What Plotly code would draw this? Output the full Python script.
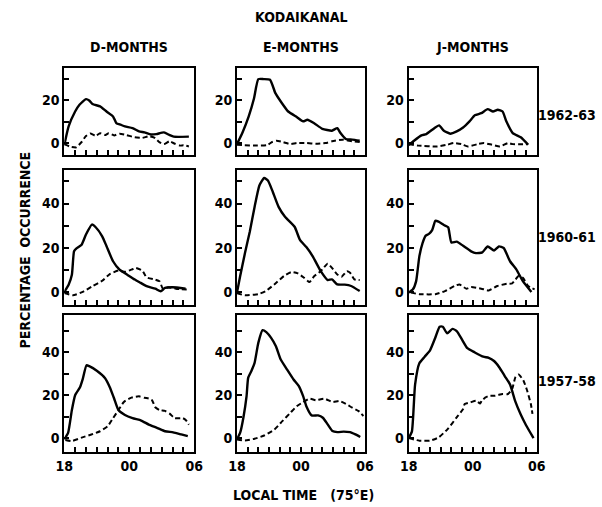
import plotly.graph_objects as go

# ---------------- data (hours after 18 LT, percentage occurrence) ----------------
# Row 1962-63
d6263_solid_x = [0, 0.4, 1.0, 1.4, 2.0, 2.3, 2.6, 3.3, 3.9, 4.5, 4.8, 5.2, 5.6, 6.3, 6.9, 7.4, 8.0, 8.5, 9.2, 9.7, 10.1, 11.5]
d6263_solid_y = [-1, 7.8, 14.8, 18.0, 20.6, 20.0, 18.3, 17.2, 14.8, 12.5, 9.4, 8.6, 7.8, 7.0, 5.5, 5.0, 4.0, 4.2, 5.0, 3.8, 3.0, 3.0]
d6263_dash_x = [0, 0.5, 1.1, 1.6, 2.0, 2.4, 2.9, 3.3, 3.8, 4.1, 4.6, 5.1, 5.7, 6.5, 7.2, 7.8, 8.3, 8.8, 9.2, 9.7, 10.2, 10.7, 11.0, 11.5]
d6263_dash_y = [-0.5, -1.6, -2.0, 0.5, 3.3, 4.5, 3.4, 4.6, 3.8, 4.6, 3.6, 4.4, 3.8, 2.7, 2.4, 3.2, 2.6, 0.3, -0.5, 0.8, -0.3, -1.2, -1.0, -1.6]

e6263_solid_x = [0, 0.5, 1.1, 1.6, 2.0, 2.5, 3.1, 3.6, 4.2, 4.8, 5.6, 6.2, 6.6, 7.2, 8.0, 8.9, 9.4, 9.7, 10.2, 10.8, 11.5]
e6263_solid_y = [-0.5, 4.7, 12.5, 21.0, 30.0, 30.0, 29.7, 23.4, 18.8, 14.8, 12.2, 10.2, 10.9, 9.4, 6.7, 5.8, 7.0, 4.7, 1.9, 1.6, 1.1]
e6263_dash_x = [0, 0.7, 1.9, 2.8, 3.3, 3.7, 4.3, 5.0, 5.6, 6.5, 7.4, 8.3, 8.9, 9.9, 10.8, 11.5]
e6263_dash_y = [-0.8, -1.0, -1.2, -1.0, 0.5, 1.1, 0.5, -0.5, 0.0, 0.0, -0.3, 0.0, 0.8, 1.6, 0.8, 0.5]

j6263_solid_x = [0, 0.5, 1.2, 1.65, 2.4, 2.85, 3.3, 3.9, 4.5, 5.1, 5.7, 6.2, 6.8, 7.4, 7.9, 8.35, 8.8, 9.15, 9.75, 10.5, 11.2]
j6263_solid_y = [-1, 1.1, 3.6, 4.2, 7.0, 8.3, 5.8, 4.4, 5.5, 7.3, 10.2, 13.0, 14.0, 15.9, 14.8, 15.6, 14.8, 10.2, 4.7, 2.7, -0.8]
j6263_dash_x = [0, 0.9, 2.7, 3.6, 4.2, 4.95, 5.55, 6.45, 7.05, 7.8, 8.55, 9.3, 9.75, 10.5, 11.1]
j6263_dash_y = [-0.5, -1.2, -1.6, -0.8, 0.0, -0.5, -1.6, -0.5, 0.0, -0.8, -1.6, 0.0, -0.5, -0.5, -0.5]

# Row 1960-61
d6061_solid_x = [0, 0.4, 0.7, 0.9, 1.1, 1.6, 2.0, 2.55, 2.9, 3.5, 3.9, 4.5, 5.1, 5.9, 6.5, 7.05, 7.6, 8.4, 8.9, 9.3, 10.0, 11.2]
d6061_solid_y = [0, 3.3, 7.8, 18.4, 19.6, 21.4, 26.0, 30.5, 29.3, 25.2, 20.7, 13.9, 10.1, 7.5, 5.6, 4.1, 2.6, 1.5, 0.3, 1.8, 2.1, 1.5]
d6061_dash_x = [0, 0.8, 1.7, 2.6, 3.5, 4.2, 5.0, 5.6, 6.2, 6.6, 7.2, 7.6, 8.4, 8.8, 9.1, 9.6, 10.3, 11.3]
d6061_dash_y = [-0.5, -1.5, 0.0, 2.6, 5.1, 8.1, 9.7, 9.1, 10.1, 10.9, 9.7, 6.6, 5.6, 4.8, 1.5, 2.1, 1.5, 1.1]

e6061_solid_x = [0, 0.3, 0.75, 1.2, 1.65, 2.1, 2.55, 2.9, 3.3, 3.9, 4.5, 5.4, 5.9, 6.5, 7.1, 7.85, 8.5, 8.9, 9.4, 10.1, 10.7, 11.5]
e6061_solid_y = [-0.3, 7.2, 17.6, 27.3, 38.5, 48.2, 51.6, 50.4, 46.0, 38.5, 34.0, 29.5, 23.6, 20.3, 16.1, 9.4, 5.4, 5.7, 3.4, 3.3, 2.7, 0.4]
e6061_dash_x = [0, 0.75, 2.0, 2.7, 3.5, 4.4, 5.1, 5.7, 6.3, 6.8, 7.25, 7.85, 8.5, 8.9, 9.4, 9.8, 10.3, 10.6, 11.0, 11.5]
e6061_dash_y = [-0.6, -1.5, -1.0, 0.4, 3.4, 7.2, 9.0, 8.4, 6.4, 4.5, 7.2, 9.4, 12.8, 10.9, 7.9, 6.9, 9.4, 8.7, 5.7, 5.4]

j6061_solid_x = [0, 0.4, 0.7, 1.0, 1.3, 1.6, 1.9, 2.2, 2.5, 2.8, 3.3, 3.7, 4.0, 4.5, 5.1, 5.85, 6.3, 6.9, 7.4, 8.0, 8.45, 8.9, 9.5, 10.1, 10.7, 11.5]
j6061_solid_y = [-0.3, 1.2, 4.9, 16.1, 22.1, 25.5, 26.3, 28.0, 32.2, 31.8, 30.3, 29.3, 22.4, 22.8, 20.9, 18.4, 17.6, 17.9, 20.6, 18.8, 20.6, 19.9, 13.9, 10.1, 4.9, 0.0]
j6061_dash_x = [0.2, 1.0, 2.5, 3.4, 4.3, 4.75, 5.4, 5.85, 6.8, 7.5, 8.3, 9.2, 9.7, 10.3, 10.7, 11.2, 11.8]
j6061_dash_y = [-0.3, -1.0, -1.0, 0.4, 2.7, 3.4, 1.5, 2.2, 1.5, 0.7, 2.7, 3.7, 3.9, 7.2, 6.4, 2.7, 1.2]

# Row 1957-58
d5758_solid_x = [0, 0.35, 0.7, 1.0, 1.45, 1.7, 2.05, 2.3, 3.0, 3.75, 4.2, 4.6, 5.0, 5.6, 6.3, 7.1, 7.8, 8.6, 9.3, 10.05, 10.8, 11.4]
d5758_solid_y = [-0.6, 2.4, 13.1, 20.0, 23.7, 27.5, 34.0, 33.6, 31.5, 28.1, 23.8, 18.5, 13.1, 10.8, 9.3, 8.2, 6.3, 4.7, 3.2, 2.7, 1.7, 0.9]
d5758_dash_x = [0.1, 0.7, 1.6, 2.5, 3.3, 4.0, 4.5, 5.0, 5.5, 6.2, 6.9, 7.4, 7.8, 8.1, 8.4, 8.8, 9.3, 9.75, 10.2, 10.95, 11.25, 11.5]
d5758_dash_y = [-0.9, -1.4, 0.2, 1.7, 3.2, 5.5, 9.3, 13.1, 16.9, 18.9, 19.5, 18.8, 18.5, 17.7, 14.4, 13.1, 12.7, 11.3, 9.3, 9.3, 8.2, 6.3]

e5758_solid_x = [0, 0.3, 0.6, 0.9, 1.05, 1.35, 1.65, 2.0, 2.4, 2.75, 3.2, 3.65, 4.1, 4.7, 5.3, 5.8, 6.2, 6.5, 7.0, 7.6, 8.05, 8.5, 8.95, 9.4, 10.0, 10.6, 11.1, 11.55]
e5758_solid_y = [-0.6, 2.5, 9.5, 19.6, 28.1, 31.3, 35.1, 44.5, 50.4, 49.5, 46.8, 42.9, 36.7, 32.0, 27.4, 24.3, 19.6, 14.9, 10.6, 10.6, 9.5, 6.4, 3.3, 2.8, 3.0, 2.8, 1.7, 0.5]
e5758_dash_x = [0, 0.75, 1.65, 2.55, 3.5, 4.25, 5.0, 5.6, 6.2, 6.8, 7.4, 8.2, 8.95, 9.6, 10.2, 10.8, 11.4, 11.85]
e5758_dash_y = [-0.6, -1.1, -0.3, 1.2, 4.0, 7.9, 11.8, 14.9, 16.8, 18.4, 17.7, 18.4, 16.8, 17.3, 16.0, 14.2, 12.6, 10.3]

j5758_solid_x = [0, 0.3, 0.6, 1.0, 1.5, 2.0, 2.5, 2.9, 3.2, 3.6, 4.1, 4.5, 5.0, 5.5, 6.2, 7.0, 7.5, 8.0, 8.5, 9.0, 9.5, 10.0, 10.5, 11.0, 11.7]
j5758_solid_y = [0, 3, 25, 35, 38, 41, 47, 52, 52, 49, 51, 50, 46, 42, 40, 38, 37.5, 36, 33, 29, 25, 17, 11, 6, 0]
j5758_dash_x = [0, 1.0, 2.0, 2.8, 3.65, 4.5, 5.1, 5.25, 5.8, 6.3, 6.7, 6.85, 7.2, 7.55, 8.1, 8.8, 9.3, 9.7, 10.0, 10.3, 10.75, 11.1, 11.45, 11.6]
j5758_dash_y = [0, -1.2, -1.2, 0.3, 4.2, 9.7, 13.6, 15.9, 16.7, 17.5, 16.2, 17.5, 19.0, 19.8, 19.8, 20.6, 20.6, 23.0, 28.4, 29.7, 26.9, 22.2, 15.9, 11.3]

seasons = ["D-MONTHS", "E-MONTHS", "J-MONTHS"]
epochs = ["1962-63", "1960-61", "1957-58"]
x_tick_vals = list(range(0, 13))
x_tick_text = ["18", "", "", "", "", "", "00", "", "", "", "", "", "06"]

panels = [
    [(d6263_solid_x, d6263_solid_y, d6263_dash_x, d6263_dash_y),
     (e6263_solid_x, e6263_solid_y, e6263_dash_x, e6263_dash_y),
     (j6263_solid_x, j6263_solid_y, j6263_dash_x, j6263_dash_y)],
    [(d6061_solid_x, d6061_solid_y, d6061_dash_x, d6061_dash_y),
     (e6061_solid_x, e6061_solid_y, e6061_dash_x, e6061_dash_y),
     (j6061_solid_x, j6061_solid_y, j6061_dash_x, j6061_dash_y)],
    [(d5758_solid_x, d5758_solid_y, d5758_dash_x, d5758_dash_y),
     (e5758_solid_x, e5758_solid_y, e5758_dash_x, e5758_dash_y),
     (j5758_solid_x, j5758_solid_y, j5758_dash_x, j5758_dash_y)],
]

# ---------------- layout geometry (pixels) ----------------
W, H = 602, 507
col_px = [(57, 191), (235, 367), (412, 544)]
row_px = [(68, 155), (170, 305), (315, 452)]
row_yrange = [(-5.6, 35.2), (-5.9, 55.2), (-6.5, 57.5)]
row_ytick = [[0, 10, 20, 30], [0, 10, 20, 30, 40, 50], [0, 10, 20, 30, 40, 50]]

FONT = "DejaVu Sans Condensed, Liberation Sans Narrow, Arial Narrow, sans-serif"

def px_x(p):
    return p / W

def px_y(p):
    return 1 - p / H

fig = go.Figure()
layout = dict(
    width=W, height=H,
    margin=dict(l=0, r=0, t=0, b=0),
    paper_bgcolor="white", plot_bgcolor="white",
    showlegend=False,
    font=dict(family=FONT, size=14, color="black", weight="bold"),
)

for r in range(3):
    for c in range(3):
        i = r * 3 + c + 1
        xname = "x" if i == 1 else f"x{i}"
        yname = "y" if i == 1 else f"y{i}"
        sx, sy, dx, dy = panels[r][c]
        fig.add_trace(go.Scatter(x=sx, y=sy, mode="lines", xaxis=xname, yaxis=yname,
                                 line=dict(color="black", width=2.4, shape="spline", smoothing=0.5)))
        fig.add_trace(go.Scatter(x=dx, y=dy, mode="lines", xaxis=xname, yaxis=yname,
                                 line=dict(color="black", width=2.0, dash="5px,3px", shape="spline", smoothing=0.5)))
        xk = "xaxis" if i == 1 else f"xaxis{i}"
        yk = "yaxis" if i == 1 else f"yaxis{i}"
        layout[xk] = dict(
            domain=[px_x(col_px[c][0]), px_x(col_px[c][1])],
            anchor=yname, range=[0, 12],
            showline=True, linecolor="black", linewidth=2, mirror=True,
            ticks="inside", ticklen=5, tickwidth=1.5, tickcolor="black",
            tickvals=x_tick_vals,
            ticktext=x_tick_text if r == 2 else [""] * 13,
            showticklabels=(r == 2),
            showgrid=False, zeroline=False, fixedrange=True,
            tickfont=dict(family=FONT, size=14, color="black", weight="bold"),
        )
        yt = row_ytick[r]
        layout[yk] = dict(
            domain=[px_y(row_px[r][1]), px_y(row_px[r][0])],
            anchor=xname, range=list(row_yrange[r]),
            showline=True, linecolor="black", linewidth=2, mirror=True,
            ticks="inside", ticklen=5, tickwidth=1.5, tickcolor="black",
            tickvals=yt, ticktext=[str(v) if v % 20 == 0 else "" for v in yt],
            showgrid=False, zeroline=False, fixedrange=True,
            tickfont=dict(family=FONT, size=14, color="black", weight="bold"),
        )

def label(text, x, y, angle=0):
    return dict(text=text, x=px_x(x), y=px_y(y), xref="paper", yref="paper",
                xanchor="center", yanchor="middle", showarrow=False, textangle=angle,
                font=dict(family=FONT, size=14, weight="bold", color="black"))

annotations = [label("KODAIKANAL", 302, 17)]
for c, s in enumerate(seasons):
    cx = (col_px[c][0] + col_px[c][1]) / 2
    annotations.append(label(s, cx, 47))
row_label_y = [115, 237, 381]
for r, e in enumerate(epochs):
    annotations.append(label(e, 575, row_label_y[r]))
annotations.append(label("PERCENTAGE  OCCURRENCE", 17, 250, -90))
annotations.append(label("LOCAL TIME   (75°E)", 304, 495))
layout["annotations"] = annotations

fig.update_layout(**layout)
fig.write_html("out.html", config={"displayModeBar": False},
               post_script="document.body.style.margin='0';document.body.style.overflow='hidden';")
